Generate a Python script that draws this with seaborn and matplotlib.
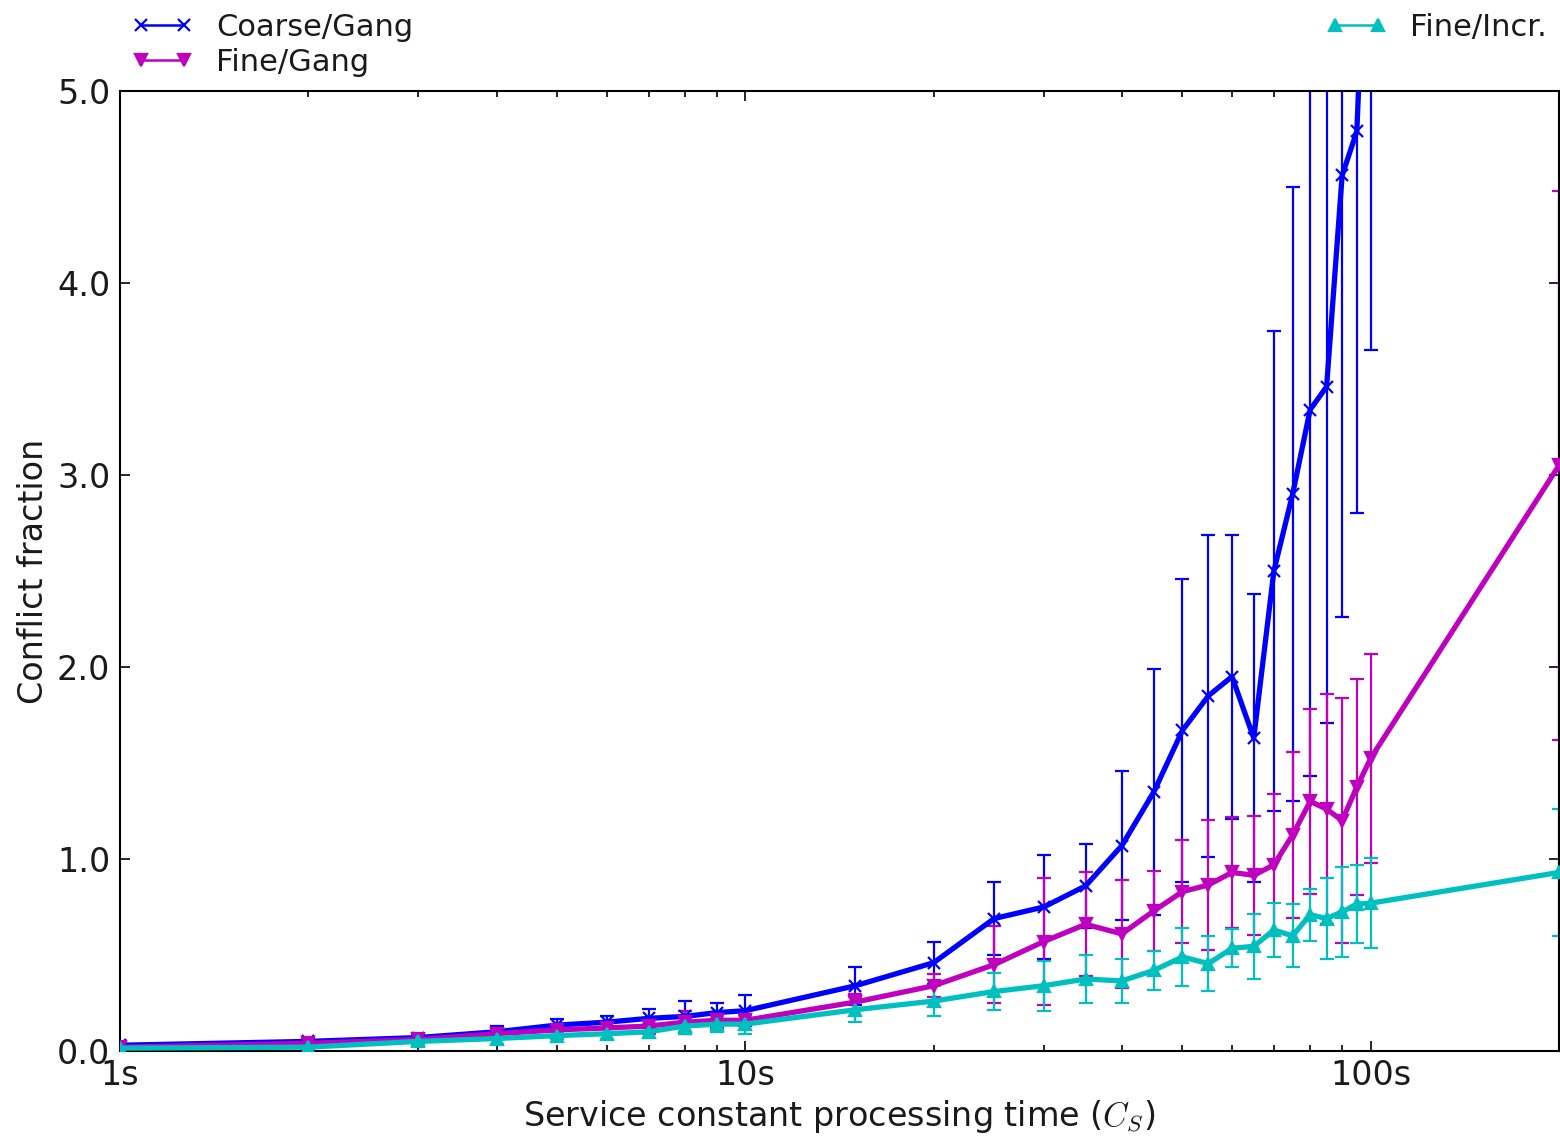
import numpy as np
import pandas as pd
import matplotlib
matplotlib.use("Agg")
import matplotlib.pyplot as plt
import seaborn as sns
from matplotlib.lines import Line2D
from matplotlib.ticker import FixedLocator, FixedFormatter, LogLocator, NullFormatter

# Service constant processing time (seconds)
times = [1, 2, 3, 4, 5, 6, 7, 8, 9, 10, 15, 20, 25, 30, 35, 40, 45, 50,
         55, 60, 65, 70, 75, 80, 85, 90, 95, 100, 200]

# Coarse/Gang (no measurement at 200 s)
coarse_gang = [0.03, 0.05, 0.07, 0.10, 0.135, 0.15, 0.17, 0.18, 0.20, 0.21,
               0.34, 0.46, 0.69, 0.75, 0.86, 1.07, 1.35, 1.67, 1.85, 1.95,
               1.63, 2.50, 2.90, 3.34, 3.46, 4.56, 4.79, 6.50]
coarse_gang_err = [0.01, 0.015, 0.02, 0.03, 0.03, 0.03, 0.05, 0.08, 0.05, 0.08,
                   0.10, 0.11, 0.19, 0.27, 0.22, 0.39, 0.64, 0.79, 0.84, 0.74,
                   0.75, 1.25, 1.60, 1.91, 1.75, 2.30, 1.99, 2.85]

# Fine/Gang
fine_gang = [0.02, 0.04, 0.06, 0.09, 0.11, 0.12, 0.13, 0.15, 0.16, 0.16,
             0.255, 0.34, 0.45, 0.57, 0.66, 0.61, 0.73, 0.83, 0.865, 0.93,
             0.915, 0.97, 1.125, 1.30, 1.26, 1.20, 1.375, 1.525, 3.05]
fine_gang_err = [0.01, 0.015, 0.02, 0.03, 0.03, 0.03, 0.04, 0.06, 0.04, 0.05,
                 0.04, 0.06, 0.20, 0.33, 0.27, 0.28, 0.21, 0.27, 0.34, 0.29,
                 0.31, 0.37, 0.43, 0.48, 0.60, 0.64, 0.56, 0.545, 1.43]

# Fine/Incr.
fine_incr = [0.015, 0.02, 0.05, 0.065, 0.08, 0.09, 0.10, 0.13, 0.14, 0.14,
             0.215, 0.26, 0.31, 0.34, 0.375, 0.365, 0.42, 0.49, 0.455, 0.535,
             0.545, 0.63, 0.60, 0.71, 0.69, 0.725, 0.765, 0.77, 0.93]
fine_incr_err = [0.01, 0.015, 0.02, 0.03, 0.02, 0.03, 0.03, 0.04, 0.04, 0.05,
                 0.065, 0.08, 0.095, 0.13, 0.125, 0.115, 0.10, 0.15, 0.145, 0.10,
                 0.17, 0.14, 0.165, 0.135, 0.21, 0.235, 0.205, 0.235, 0.33]

series = [
    ("Coarse/Gang", times[:len(coarse_gang)], coarse_gang, coarse_gang_err, (0, 0, 1), "x"),
    ("Fine/Gang", times, fine_gang, fine_gang_err, (0.75, 0, 0.75), "v"),
    ("Fine/Incr.", times, fine_incr, fine_incr_err, (0, 0.75, 0.75), "^"),
]

sns.set_style("ticks")
plt.rcParams.update({
    "font.family": ["DejaVu Sans"],
    "font.size": 24,
    "mathtext.fontset": "cm",
    "text.color": "#1a1a1a",
    "axes.labelcolor": "#1a1a1a",
    "xtick.color": "black",
    "ytick.color": "black",
    "xtick.labelcolor": "#1a1a1a",
    "ytick.labelcolor": "#1a1a1a",
    "axes.linewidth": 1.5,
    "xtick.direction": "in",
    "ytick.direction": "in",
    "xtick.top": True,
    "ytick.right": True,
    "xtick.major.size": 7.5,
    "xtick.minor.size": 4,
    "ytick.major.size": 7.5,
    "ytick.minor.size": 4,
    "xtick.major.width": 1.2,
    "xtick.minor.width": 1.2,
    "ytick.major.width": 1.2,
    "xtick.major.pad": 6,
    "ytick.major.pad": 7,
    "xtick.labelsize": 24,
    "ytick.labelsize": 24,
    "axes.labelsize": 24,
})

fig = plt.figure(figsize=(15.6, 11.38), dpi=100)
ax = fig.add_axes([120 / 1560, 87 / 1138, 1439 / 1560, 960 / 1138])

handles = []
for name, xs, ys, errs, color, marker in series:
    df = pd.DataFrame({"time": xs, "fraction": ys})
    ax.errorbar(xs, ys, yerr=errs, fmt="none", ecolor=color, elinewidth=1.6,
                capsize=5, capthick=1.6, zorder=2)
    sns.lineplot(data=df, x="time", y="fraction", ax=ax, color=color,
                 marker=marker, markersize=9, markeredgecolor=color,
                 markerfacecolor=color, markeredgewidth=1.6, linewidth=3.8,
                 estimator=None, sort=False, legend=False, zorder=3)
    handles.append(Line2D([0], [0], color=color, marker=marker, markersize=9,
                          markeredgecolor=color, markerfacecolor=color,
                          markeredgewidth=1.6, linewidth=1.8, label=name))

ax.set_xscale("log")
ax.set_xlim(1, 200)
ax.set_ylim(0, 5)

ax.xaxis.set_major_locator(FixedLocator([1, 10, 100]))
ax.xaxis.set_major_formatter(FixedFormatter(["1s", "10s", "100s"]))
ax.xaxis.set_minor_locator(LogLocator(base=10, subs=np.arange(2, 10)))
ax.xaxis.set_minor_formatter(NullFormatter())
ax.set_yticks([0, 1, 2, 3, 4, 5])
ax.set_yticklabels(["0.0", "1.0", "2.0", "3.0", "4.0", "5.0"])

for spine in ax.spines.values():
    spine.set_visible(True)
    spine.set_color("black")

ax.set_xlabel(r"Service constant processing time ($C_S$)", labelpad=4)
ax.set_ylabel("Conflict fraction", labelpad=5)

ax.legend(handles=handles, bbox_to_anchor=(0, 1.002, 1, 0.102), loc="lower left",
          ncol=2, mode="expand", borderaxespad=0, frameon=False, numpoints=2,
          handlelength=2.0, handletextpad=0.75, labelspacing=0.2,
          fontsize=22)

fig.savefig("out.png", dpi=100)
